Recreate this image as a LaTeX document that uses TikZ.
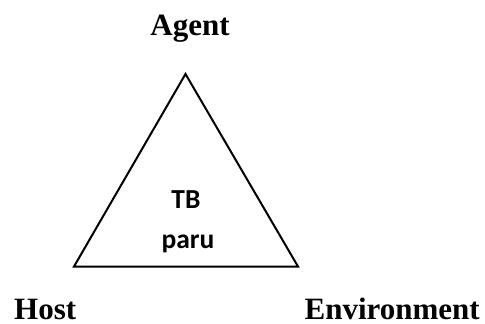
\documentclass[tikz,border=0pt]{standalone}
\usepackage{fontspec}
\setmainfont{Liberation Serif}
\newfontfamily\calib{Carlito}
\usetikzlibrary{positioning}

\begin{document}
\begin{tikzpicture}[x=1pt, y=-1pt]
\tikzstyle{lbl}=[anchor=base, inner sep=0pt, font=\fontsize{31}{36}\selectfont\bfseries]
\tikzstyle{inner}=[anchor=base, inner sep=0pt, font=\fontsize{27.5}{32}\calib\bfseries]
\tikzstyle{edge}=[line width=2pt, line join=miter]
\useasboundingbox (0,0) rectangle (485,324);
% 1. Corners
%%%%%%%%%%%%
\coordinate (top) at (185.5,74);
\coordinate (left) at (74,266.5);
\coordinate (right) at (298,266.5);
% 2. Labels
%%%%%%%%%%%
\node[lbl] (agent) at (190,35) {Agent};
\node[lbl, anchor=base west] (host) at (14,319) {Host};
\node[lbl, anchor=base east] (env) at (480,319) {Environment};
\node[inner] (tb) at (186,208) {TB};
\node[inner] (paru) at (188,248) {paru};
% 3. Triangle
%%%%%%%%%%%%%
\draw[edge] (top) -- (right) -- (left) -- cycle;
\end{tikzpicture}
\end{document}
